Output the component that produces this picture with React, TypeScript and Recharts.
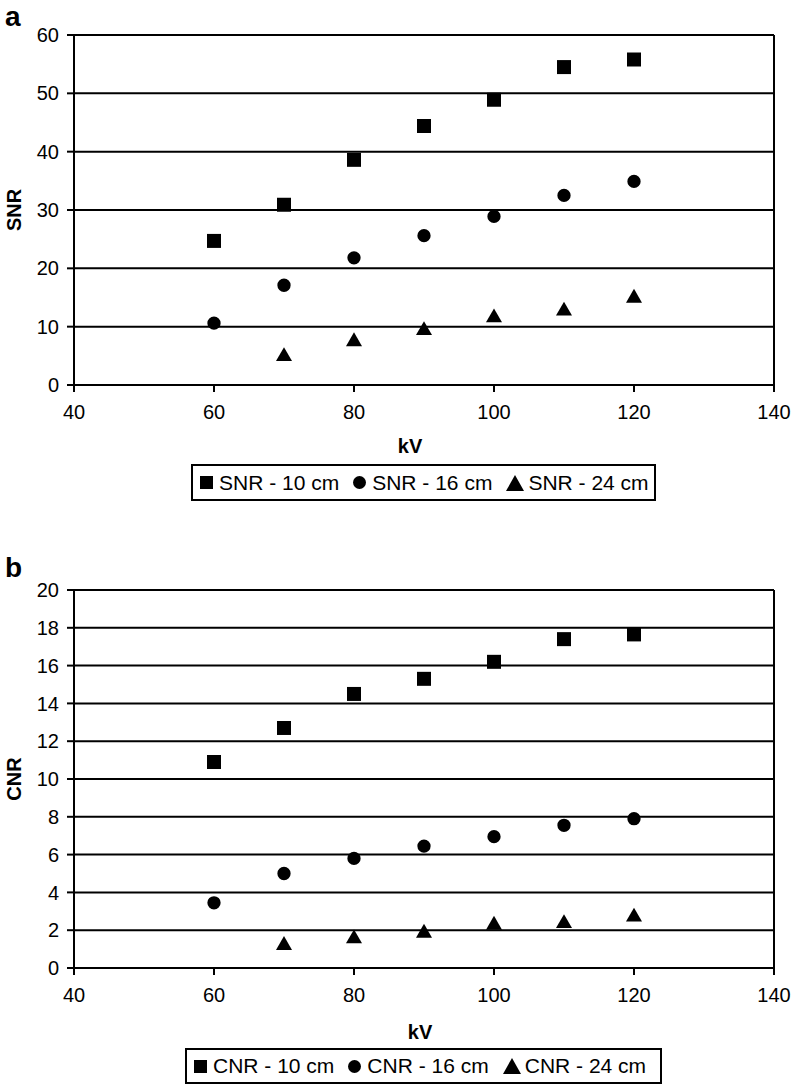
import React from "react";
import {
  ScatterChart,
  Scatter,
  XAxis,
  YAxis,
  CartesianGrid,
  ReferenceLine,
  Symbols,
} from "recharts";

const FONT = "'Liberation Sans', Arial, sans-serif";

const kv = [60, 70, 80, 90, 100, 110, 120];
const kvTicks = [40, 60, 80, 100, 120, 140];

const snr10 = [24.7, 30.9, 38.6, 44.4, 48.9, 54.5, 55.8];
const snr16 = [10.6, 17.1, 21.8, 25.6, 28.9, 32.5, 34.9];
const snr24 = [null, 4.9, 7.45, 9.35, 11.55, 12.7, 14.9];
const snrTicks = [0, 10, 20, 30, 40, 50, 60];
const snrNames = ["SNR - 10 cm", "SNR - 16 cm", "SNR - 24 cm"];

const cnr10 = [10.9, 12.7, 14.5, 15.3, 16.2, 17.4, 17.65];
const cnr16 = [3.45, 5.0, 5.8, 6.45, 6.95, 7.55, 7.9];
const cnr24 = [null, 1.2, 1.55, 1.85, 2.27, 2.36, 2.7];
const cnrTicks = [0, 2, 4, 6, 8, 10, 12, 14, 16, 18, 20];
const cnrNames = ["CNR - 10 cm", "CNR - 16 cm", "CNR - 24 cm"];

const shapes = ["square", "circle", "triangle"] as const;
// marker areas (px^2) so the glyphs come out ~14px square, 13px circle, 16px triangle
const sizes = [196, 139, 111];

const toPoints = (ys: (number | null)[]) =>
  kv
    .map((x, i) => ({ x, y: ys[i] }))
    .filter((p) => p.y != null);

const markShape = (i: number) => (props: any) => (
  <Symbols cx={props.cx} cy={props.cy} type={shapes[i]} size={sizes[i]} fill="#000" />
);

function LegendMark({ shape }: { shape: string }) {
  if (shape === "square")
    return (
      <svg width={13} height={13}>
        <rect x={0} y={0} width={13} height={13} fill="#000" />
      </svg>
    );
  if (shape === "circle")
    return (
      <svg width={13} height={13}>
        <circle cx={6.5} cy={6.5} r={6.5} fill="#000" />
      </svg>
    );
  return (
    <svg width={18} height={16}>
      <polygon points="9,0 18,16 0,16" fill="#000" />
    </svg>
  );
}

interface LegendBoxProps {
  names: string[];
  left: number;
  top: number;
  width: number;
  height: number;
}

function LegendBox({ names, left, top, width, height }: LegendBoxProps) {
  return (
    <div
      style={{
        position: "absolute",
        left,
        top,
        width,
        height,
        boxSizing: "border-box",
        border: "2px solid #000",
        display: "flex",
        alignItems: "center",
        paddingLeft: 7,
        fontFamily: FONT,
        fontSize: 21,
        color: "#000",
        background: "#fff",
      }}
    >
      {names.map((n, i) => (
        <div
          key={n}
          style={{
            display: "flex",
            alignItems: "center",
            marginLeft: i === 0 ? 0 : 14,
          }}
        >
          <LegendMark shape={shapes[i]} />
          <span style={{ marginLeft: i === 2 ? 4 : 6, whiteSpace: "nowrap" }}>{n}</span>
        </div>
      ))}
    </div>
  );
}

interface PanelProps {
  top: number;
  height: number;
  marginTop: number;
  marginBottom: number;
  yMax: number;
  yTicks: number[];
  yLabel: string;
  data: (number | null)[][];
  labelOffset: number;
  labelDx: number;
}

function Panel(p: PanelProps) {
  const axisStyle = { stroke: "#000", strokeWidth: 2 };
  const tickStyle = { fill: "#000", fontSize: 20, fontFamily: FONT };
  return (
    <div style={{ position: "absolute", left: 0, top: p.top }}>
      <ScatterChart
        width={793}
        height={p.height}
        margin={{ top: p.marginTop, right: 19, bottom: p.marginBottom, left: 0 }}
      >
        <CartesianGrid vertical={false} stroke="#000" strokeWidth={2} />
        <XAxis
          type="number"
          dataKey="x"
          domain={[40, 140]}
          ticks={kvTicks}
          interval={0}
          height={75}
          tickSize={7}
          tickMargin={13}
          axisLine={axisStyle}
          tickLine={axisStyle}
          tick={tickStyle}
          label={{
            value: "kV",
            position: "insideBottom",
            offset: p.labelOffset,
            dx: p.labelDx,
            style: { fontWeight: "bold", fontSize: 20, fill: "#000", fontFamily: FONT },
          }}
        />
        <YAxis
          type="number"
          dataKey="y"
          domain={[0, p.yMax]}
          ticks={p.yTicks}
          interval={0}
          width={74}
          tickSize={7}
          tickMargin={8}
          axisLine={axisStyle}
          tickLine={axisStyle}
          tick={tickStyle}
          label={{
            value: p.yLabel,
            angle: -90,
            position: "insideLeft",
            offset: 14,
            style: {
              textAnchor: "middle",
              fontWeight: "bold",
              fontSize: 20,
              fill: "#000",
              fontFamily: FONT,
            },
          }}
        />
        <ReferenceLine x={140} stroke="#000" strokeWidth={2} />
        {p.data.map((ys, i) => (
          <Scatter
            key={shapes[i]}
            data={toPoints(ys)}
            shape={markShape(i)}
            fill="#000"
            isAnimationActive={false}
          />
        ))}
      </ScatterChart>
    </div>
  );
}

export default function App() {
  return (
    <div
      style={{
        position: "absolute",
        left: 0,
        top: 0,
        width: 793,
        height: 1085,
        background: "#fff",
        fontFamily: FONT,
        overflow: "hidden",
      }}
    >
      <Panel
        top={0}
        height={560}
        marginTop={35}
        marginBottom={100}
        yMax={60}
        yTicks={snrTicks}
        yLabel="SNR"
        data={[snr10, snr16, snr24]}
        labelOffset={7}
        labelDx={-14}
      />
      <Panel
        top={560}
        height={525}
        marginTop={30}
        marginBottom={42}
        yMax={20}
        yTicks={cnrTicks}
        yLabel="CNR"
        data={[cnr10, cnr16, cnr24]}
        labelOffset={4}
        labelDx={-4}
      />
      <div
        style={{
          position: "absolute",
          left: 5,
          top: 1,
          fontSize: 28,
          lineHeight: "normal",
          fontWeight: "bold",
        }}
      >
        a
      </div>
      <div
        style={{
          position: "absolute",
          left: 5,
          top: 552,
          fontSize: 28,
          lineHeight: "normal",
          fontWeight: "bold",
        }}
      >
        b
      </div>
      <LegendBox names={snrNames} left={191} top={464} width={465} height={37} />
      <LegendBox names={cnrNames} left={185} top={1048} width={477} height={36} />
    </div>
  );
}
